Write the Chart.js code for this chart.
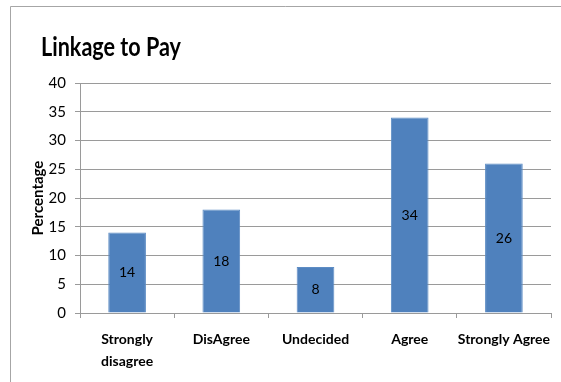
<!DOCTYPE html>
<html>
<head>
<meta charset="utf-8">
<script src="https://cdn.jsdelivr.net/npm/chart.js@4.4.1/dist/chart.umd.min.js"></script>
<style>
  html, body { margin: 0; padding: 0; background: #fff; }
  #wrap { width: 561px; height: 382px; }
</style>
</head>
<body>
<div id="wrap"><canvas id="chart" width="561" height="382"></canvas></div>
<script>
// Chart data
const categories = [['Strongly', 'disagree'], 'DisAgree', 'Undecided', 'Agree', 'Strongly Agree'];
const percentages = [14, 18, 8, 34, 26];
const yTicks = [0, 5, 10, 15, 20, 25, 30, 35, 40];

const chartTitle = 'Linkage to Pay';
const yTitle = 'Percentage';

const face = 'Lato, "Liberation Sans", Arial, sans-serif';
const gridColor = '#9a9a9a';

// Outer frame, title and the value labels inside the bars
const decorations = {
  id: 'decorations',
  beforeDraw(chart) {
    const ctx = chart.ctx;
    ctx.save();
    ctx.strokeStyle = '#a6a6a6';
    ctx.lineWidth = 1;
    ctx.beginPath();
    ctx.moveTo(10.5, 382);
    ctx.lineTo(10.5, 6.5);
    ctx.lineTo(561, 6.5);
    ctx.stroke();
    ctx.restore();
  },
  afterDraw(chart) {
    const ctx = chart.ctx;
    ctx.save();
    ctx.fillStyle = '#000';
    ctx.font = 'bold 26px ' + face;
    ctx.textBaseline = 'alphabetic';
    ctx.textAlign = 'left';
    // squeeze the title to the width it has in the picture
    const w = ctx.measureText(chartTitle).width;
    ctx.translate(41, 56);
    ctx.scale(Math.min(1, 140 / w), 1);
    ctx.fillText(chartTitle, 0, 0);
    ctx.setTransform(1, 0, 0, 1, 0, 0);

    // values in the middle of each bar
    ctx.font = '14px ' + face;
    ctx.textAlign = 'center';
    ctx.textBaseline = 'middle';
    chart.getDatasetMeta(0).data.forEach((bar, i) => {
      const mid = (bar.y + bar.base) / 2;
      ctx.fillText(String(percentages[i]), bar.x, mid);
    });
    ctx.restore();
  }
};

const ctx = document.getElementById('chart').getContext('2d');
new Chart(ctx, {
  type: 'bar',
  data: {
    labels: categories,
    datasets: [{
      data: percentages,
      backgroundColor: '#4f81bd',
      borderColor: '#5d8cc4',
      borderWidth: 1,
      categoryPercentage: 1,
      barPercentage: 0.4
    }]
  },
  options: {
    responsive: false,
    animation: false,
    layout: { padding: { left: 10, right: 10, top: 83, bottom: 0 } },
    plugins: {
      legend: { display: false },
      title: { display: false },
      tooltip: { enabled: false }
    },
    scales: {
      x: {
        afterFit(scale) {
          scale.height = 69;
          scale.paddingLeft = 0;
          scale.paddingRight = 0;
        },
        grid: { drawOnChartArea: false, tickLength: 5, color: gridColor },
        border: { color: gridColor },
        ticks: {
          color: '#000',
          padding: 10,
          maxRotation: 0,
          autoSkip: false,
          font: { family: face, size: 14, weight: 'bold', lineHeight: 1.6 }
        }
      },
      y: {
        min: 0,
        max: 40,
        afterFit(scale) { scale.width = 70; },
        afterBuildTicks(scale) { scale.ticks = yTicks.map(v => ({ value: v })); },
        grid: { color: gridColor, tickLength: 5 },
        border: { color: gridColor },
        ticks: {
          color: '#000',
          padding: 9,
          font: { family: face, size: 15 }
        },
        title: {
          display: true,
          text: yTitle,
          color: '#000',
          padding: { top: 19, bottom: 0 },
          font: { family: face, size: 15, weight: 'bold' }
        }
      }
    }
  },
  plugins: [decorations]
});
</script>
</body>
</html>
